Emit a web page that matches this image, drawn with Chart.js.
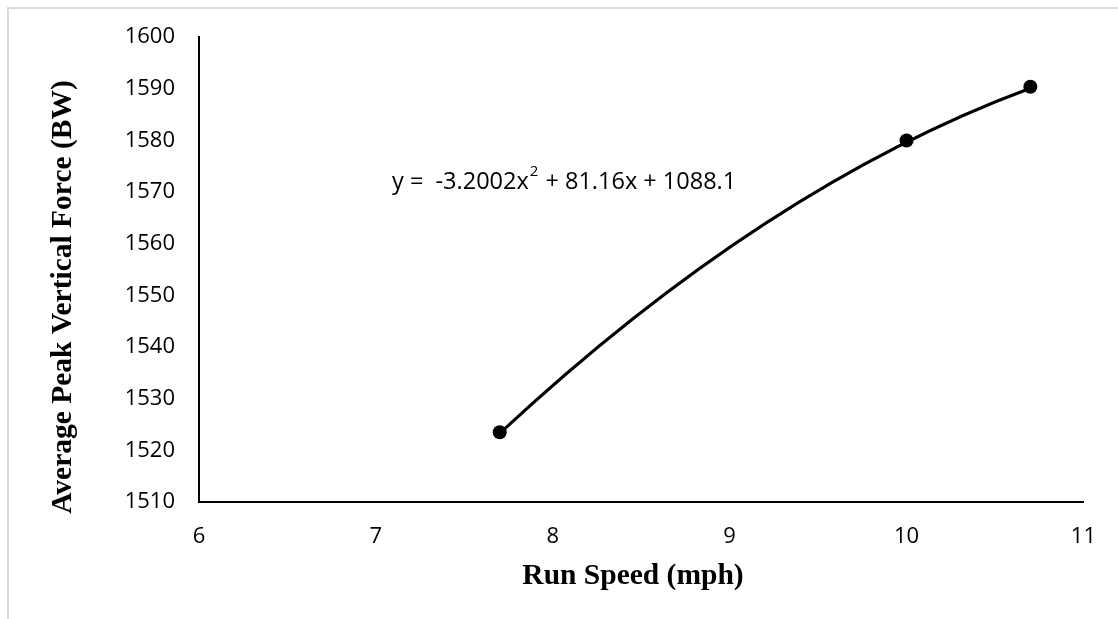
<!DOCTYPE html>
<html>
<head>
<meta charset="utf-8">
<script src="https://cdn.jsdelivr.net/npm/chart.js@4.4.1/dist/chart.umd.min.js"></script>
<style>
  html, body { margin: 0; padding: 0; background: #fff; }
  #wrap { width: 1118px; height: 619px; position: relative; }
</style>
</head>
<body>
<div id="wrap"><canvas id="chart"></canvas></div>
<script>
// run speed (mph) and average peak vertical force (BW)
const speeds = [7.7, 10, 10.7];
const forces = [1523.5, 1580, 1590.4];
const xTicks = [6, 7, 8, 9, 10, 11];
const yTicks = [1510, 1520, 1530, 1540, 1550, 1560, 1570, 1580, 1590, 1600];
// polynomial trendline as printed on the chart: a x^2 + b x + c
const trendCoef = [-3.2002, 81.16, 1088.1];

const tickFont = { family: "'Open Sans', 'Noto Sans', sans-serif", size: 22 };
const titleCss = 'bold 29.5px "Liberation Serif", "Times New Roman", serif';

// parabola from first to last speed, drawn as one quadratic bezier via the scales
const trendline = {
  id: 'trendline',
  beforeDatasetsDraw(chart) {
    const xs = chart.scales.x, ys = chart.scales.y;
    const [a, b, c] = trendCoef;
    const f = v => a * v * v + b * v + c;
    const x0 = Math.min(...speeds), x2 = Math.max(...speeds);
    const xm = (x0 + x2) / 2;
    const ym = f(x0) + (2 * a * x0 + b) * (xm - x0);
    const ctx = chart.ctx;
    ctx.save();
    ctx.strokeStyle = '#000';
    ctx.lineWidth = 3;
    ctx.lineCap = 'round';
    ctx.beginPath();
    ctx.moveTo(xs.getPixelForValue(x0), ys.getPixelForValue(f(x0)));
    ctx.quadraticCurveTo(xs.getPixelForValue(xm), ys.getPixelForValue(ym),
                         xs.getPixelForValue(x2), ys.getPixelForValue(f(x2)));
    ctx.stroke();
    ctx.restore();
  }
};

// light frame, axis titles, equation
const extras = {
  id: 'extras',
  beforeDraw(chart) {
    const c = chart.ctx;
    c.save();
    c.strokeStyle = '#d9d9d9';
    c.lineWidth = 2;
    c.strokeRect(8, 8, 1200, 700);
    c.restore();
  },
  afterDraw(chart) {
    const c = chart.ctx;
    c.save();
    c.fillStyle = '#000';
    c.font = titleCss;
    c.textAlign = 'center';
    c.textBaseline = 'middle';
    c.fillText('Run Speed (mph)', 633, 576);
    c.translate(63, 297);
    c.rotate(-Math.PI / 2);
    c.fillText('Average Peak Vertical Force (BW)', 0, 0);
    c.restore();

    c.save();
    c.fillStyle = '#000';
    c.textBaseline = 'middle';
    c.textAlign = 'left';
    let x = 392, y = 182;
    const big = '23.5px "Open Sans", "Noto Sans", sans-serif';
    const small = '15px "Open Sans", "Noto Sans", sans-serif';
    const [a, b, k] = trendCoef;
    c.font = big;
    const s1 = 'y =  ' + a + 'x';
    c.fillText(s1, x, y);
    x += c.measureText(s1).width + 1;
    c.font = small;
    c.fillText('2', x, y - 10);
    x += c.measureText('2').width + 1;
    c.font = big;
    c.fillText(' + ' + b + 'x + ' + k, x, y);
    c.restore();
  }
};

new Chart(document.getElementById('chart'), {
  type: 'scatter',
  data: {
    datasets: [{
      data: speeds.map((s, i) => ({ x: s, y: forces[i] })),
      showLine: false,
      pointRadius: 7,
      pointBackgroundColor: '#000',
      pointBorderColor: '#000',
      pointBorderWidth: 0
    }]
  },
  options: {
    responsive: true,
    maintainAspectRatio: false,
    animation: false,
    layout: { padding: { left: 0, top: 37, right: 31, bottom: 0 } },
    plugins: { legend: { display: false }, tooltip: { enabled: false } },
    scales: {
      x: {
        type: 'linear',
        min: 6, max: 11,
        afterFit: s => { s.height = 117; },
        afterBuildTicks: s => { s.ticks = xTicks.map(v => ({ value: v })); },
        grid: { display: false, drawTicks: false },
        border: { display: true, color: '#000', width: 2 },
        ticks: { color: '#000', font: tickFont, padding: 22, maxRotation: 0, callback: v => String(v) }
      },
      y: {
        type: 'linear',
        min: 1510, max: 1600,
        afterFit: s => { s.width = 199; },
        afterBuildTicks: s => { s.ticks = yTicks.map(v => ({ value: v })); },
        grid: { display: false, drawTicks: false },
        border: { display: true, color: '#000', width: 2 },
        ticks: { color: '#000', font: tickFont, padding: 24, callback: v => String(v) }
      }
    }
  },
  plugins: [trendline, extras]
});
</script>
</body>
</html>
